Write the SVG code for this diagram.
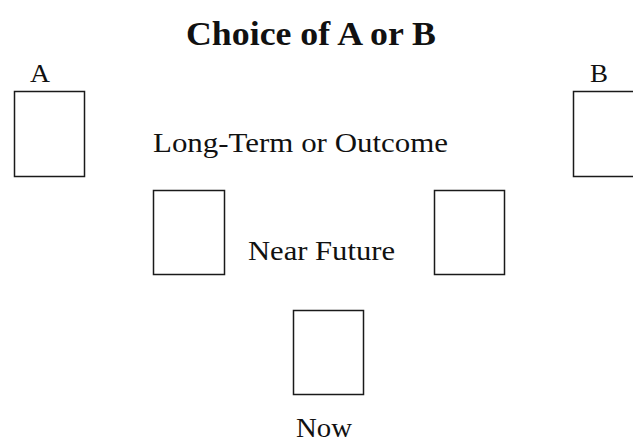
<svg xmlns="http://www.w3.org/2000/svg" width="633" height="442" viewBox="0 0 633 442">
<style>
.box{fill:#fff;stroke:#1a1a1a;stroke-width:1.5}
.t{font-family:"Liberation Serif","Times New Roman",serif;fill:#111}
</style>
<rect width="633" height="442" fill="#fff"/>
<text class="t" x="186" y="45" font-size="34" font-weight="bold" textLength="250" lengthAdjust="spacingAndGlyphs">Choice of A or B</text>
<g id="nodeA">
<text class="t" x="30" y="82" font-size="26" textLength="20" lengthAdjust="spacingAndGlyphs">A</text>
<rect class="box" x="14.5" y="91.5" width="70" height="85"/>
</g>
<g id="nodeB">
<text class="t" x="590" y="82" font-size="26" textLength="18" lengthAdjust="spacingAndGlyphs">B</text>
<rect class="box" x="573.5" y="91.5" width="70" height="85"/>
</g>
<g id="longterm">
<text class="t" x="153" y="152" font-size="27" textLength="295" lengthAdjust="spacingAndGlyphs">Long-Term or Outcome</text>
</g>
<g id="nearLeft">
<rect class="box" x="153.5" y="190.5" width="71" height="84"/>
</g>
<g id="nearRight">
<rect class="box" x="434.5" y="190.5" width="70" height="84"/>
</g>
<g id="nearfuture">
<text class="t" x="248" y="260" font-size="27" textLength="147" lengthAdjust="spacingAndGlyphs">Near Future</text>
</g>
<g id="now">
<rect class="box" x="293.5" y="310.5" width="70" height="84"/>
<text class="t" x="296" y="437" font-size="27" textLength="56" lengthAdjust="spacingAndGlyphs">Now</text>
</g>
<g id="connectors"/>
</svg>
